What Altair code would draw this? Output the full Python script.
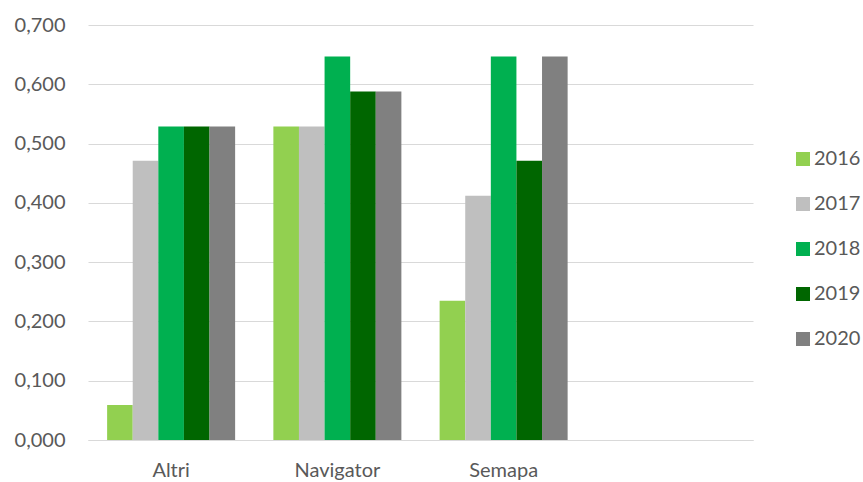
import altair as alt
import pandas as pd

companies = ["Altri", "Navigator", "Semapa"]
years = ["2016", "2017", "2018", "2019", "2020"]
values = {
    "Altri":     [0.059, 0.471, 0.529, 0.529, 0.529],
    "Navigator": [0.529, 0.529, 0.647, 0.588, 0.588],
    "Semapa":    [0.235, 0.412, 0.647, 0.471, 0.647],
}
colors = ["#92D050", "#BFBFBF", "#00B050", "#006600", "#808080"]
x_domain = companies + [""]

rows = []
for c in companies:
    for y, v in zip(years, values[c]):
        rows.append({"company": c, "year": y, "value": v})
df = pd.DataFrame(rows)

FONT = "Lato"
TXT = "#595959"

chart = alt.Chart(df).mark_bar().encode(
    x=alt.X("company:N", sort=x_domain,
            scale=alt.Scale(domain=x_domain, paddingInner=0.23, paddingOuter=0.115),
            axis=alt.Axis(title=None, labelAngle=0, ticks=False, grid=False,
                          domainColor="#D9D9D9", domainWidth=1,
                          labelFont=FONT, labelFontSize=20, labelColor=TXT,
                          labelPadding=20)),
    xOffset=alt.XOffset("year:N", sort=years, scale=alt.Scale(paddingInner=0, paddingOuter=0)),
    y=alt.Y("value:Q",
            scale=alt.Scale(domain=[0, 0.7], nice=False),
            axis=alt.Axis(title=None, values=[0, 0.1, 0.2, 0.3, 0.4, 0.5, 0.6, 0.7],
                          labelExpr="replace(format(datum.value, '.3f'), '.', ',')",
                          ticks=False, domain=False, grid=True,
                          gridColor="#D9D9D9", gridWidth=1.2,
                          labelFont=FONT, labelFontSize=20, labelColor=TXT,
                          labelPadding=23)),
    color=alt.Color("year:N", sort=years,
                    scale=alt.Scale(domain=years, range=colors),
                    legend=alt.Legend(title=None, orient="none", legendX=705, legendY=124,
                                      symbolType="square", symbolSize=196,
                                      symbolStrokeWidth=0,
                                      labelFont=FONT, labelFontSize=20, labelColor=TXT,
                                      labelOffset=1, rowPadding=25)),
).properties(
    width=665, height=415,
    background="white",
    autosize=alt.AutoSizeParams(type="none"),
    padding={"left": 88, "top": 25, "right": 110, "bottom": 42},
).configure_view(strokeWidth=0, stroke=None)

chart.save("out.html", embed_options={"renderer": "svg", "actions": False})
